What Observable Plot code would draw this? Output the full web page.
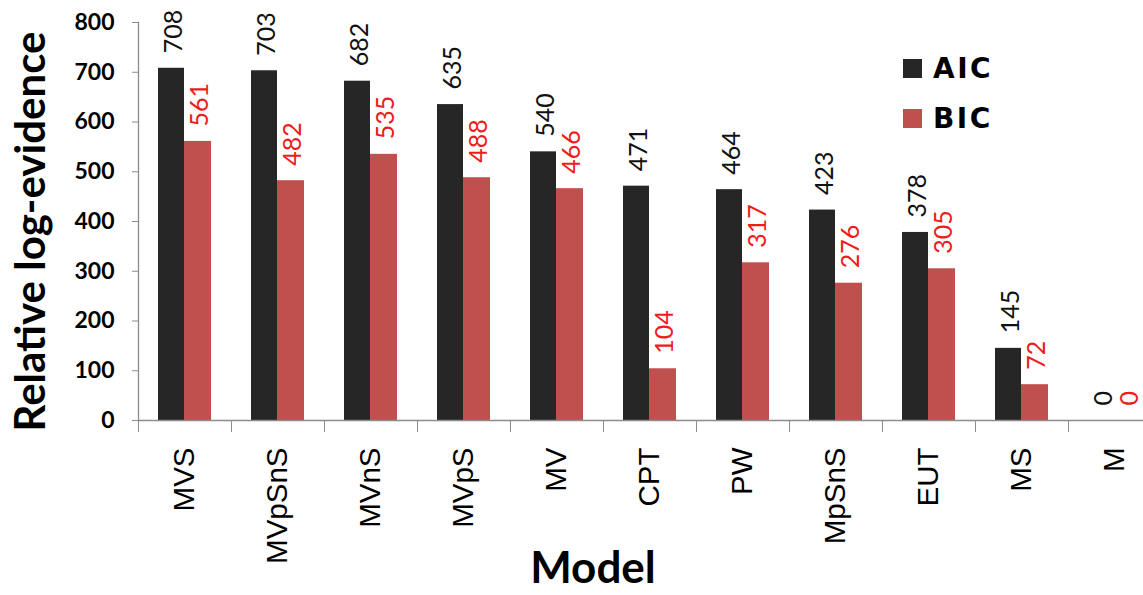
<!DOCTYPE html>
<html>
<head>
<meta charset="utf-8">
<script src="https://cdn.jsdelivr.net/npm/d3@7"></script>
<script src="https://cdn.jsdelivr.net/npm/@observablehq/plot@0.6"></script>
<style>
  html, body { margin: 0; padding: 0; background: #fff; }
  #wrap { position: relative; width: 1143px; height: 595px; overflow: hidden; }
  #legend { position: absolute; left: 903px; top: 52px; font-family: "DejaVu Sans", sans-serif; font-weight: bold; font-size: 28px; letter-spacing: 2.5px; color: #000; }
  #legend .row { display: flex; align-items: center; height: 33px; margin-bottom: 17px; }
  #legend .sw { width: 19px; height: 19px; margin-right: 11px; }
</style>
</head>
<body>
<div id="wrap">
  <div id="chart"></div>
  <div id="legend"></div>
</div>
<script>
// Models, ordered by AIC evidence
const models = ["MVS", "MVpSnS", "MVnS", "MVpS", "MV", "CPT", "PW", "MpSnS", "EUT", "MS", "M"];
// Relative log-evidence for each model
const aic = [708, 703, 682, 635, 540, 471, 464, 423, 378, 145, 0];
const bic = [561, 482, 535, 488, 466, 104, 317, 276, 305, 72, 0];
// Y-axis tick values
const yTicks = [0, 100, 200, 300, 400, 500, 600, 700, 800];

const series = [
  {name: "AIC", color: "#262626", label: "#111111"},
  {name: "BIC", color: "#c0504d", label: "#ee1c1c"}
];

const rows = models.map((m, i) => ({model: m, AIC: aic[i], BIC: bic[i]}));

const axisGray = "#8c8c8c";
const calibriLike = "Lato, 'Open Sans', sans-serif";

const chart = Plot.plot({
  width: 1143,
  height: 595,
  marginLeft: 138,
  marginRight: -18,
  marginTop: 22,
  marginBottom: 175,
  x: {domain: models, padding: 0, label: null},
  y: {domain: [0, 800], label: null},
  style: {background: "#fff"},
  marks: [
    // paired bars within each model band
    Plot.barY(rows, {x: "model", y: "AIC", fill: series[0].color, insetLeft: 20, insetRight: 47}),
    Plot.barY(rows, {x: "model", y: "BIC", fill: series[1].color, insetLeft: 46, insetRight: 20}),
    // axis lines
    Plot.ruleY([0], {stroke: axisGray, strokeWidth: 1.3}),
    Plot.frame({anchor: "left", stroke: axisGray, strokeWidth: 1.3}),
    // y axis
    Plot.axisY({ticks: yTicks, tickSize: 6, tickPadding: 18, stroke: axisGray, fill: "#000",
      fontFamily: calibriLike, fontWeight: "bold", fontSize: 23, label: null}),
    // x ticks sit between the model bands
    Plot.axisX({fill: "none", stroke: axisGray, tickSize: 12, dx: -46.5, label: null}),
    // model names
    Plot.axisX({stroke: "none", tickSize: 0, tickPadding: 27, tickRotate: -90, fill: "#000",
      fontFamily: "'Liberation Sans', Arial, sans-serif", fontSize: 29.5, label: null}),
    // value labels above the bars
    Plot.text(rows, {x: "model", y: "AIC", text: d => String(d.AIC), rotate: -90, textAnchor: "start",
      dx: -11, dy: -15, fill: series[0].label, fontFamily: calibriLike, fontSize: 25}),
    Plot.text(rows, {x: "model", y: "BIC", text: d => String(d.BIC), rotate: -90, textAnchor: "start",
      dx: 15, dy: -15, fill: series[1].label, fontFamily: calibriLike, fontSize: 25}),
    // axis titles
    Plot.text(["Relative log-evidence"], {frameAnchor: "left", text: d => d, rotate: -90,
      textAnchor: "middle", lineAnchor: "middle", dx: -107, dy: 10,
      fontFamily: calibriLike, fontWeight: "bold", fontSize: 42, fill: "#000"}),
    Plot.text(["Model"], {frameAnchor: "bottom", text: d => d, textAnchor: "middle", lineAnchor: "middle",
      dx: -57, dy: 148, fontFamily: calibriLike, fontWeight: "bold", fontSize: 44, fill: "#000"})
  ]
});

document.getElementById("chart").appendChild(chart);

// legend
const legend = d3.select("#legend");
for (const s of series) {
  const row = legend.append("div").attr("class", "row");
  row.append("div").attr("class", "sw").style("background", s.color);
  row.append("span").text(s.name);
}
</script>
</body>
</html>
